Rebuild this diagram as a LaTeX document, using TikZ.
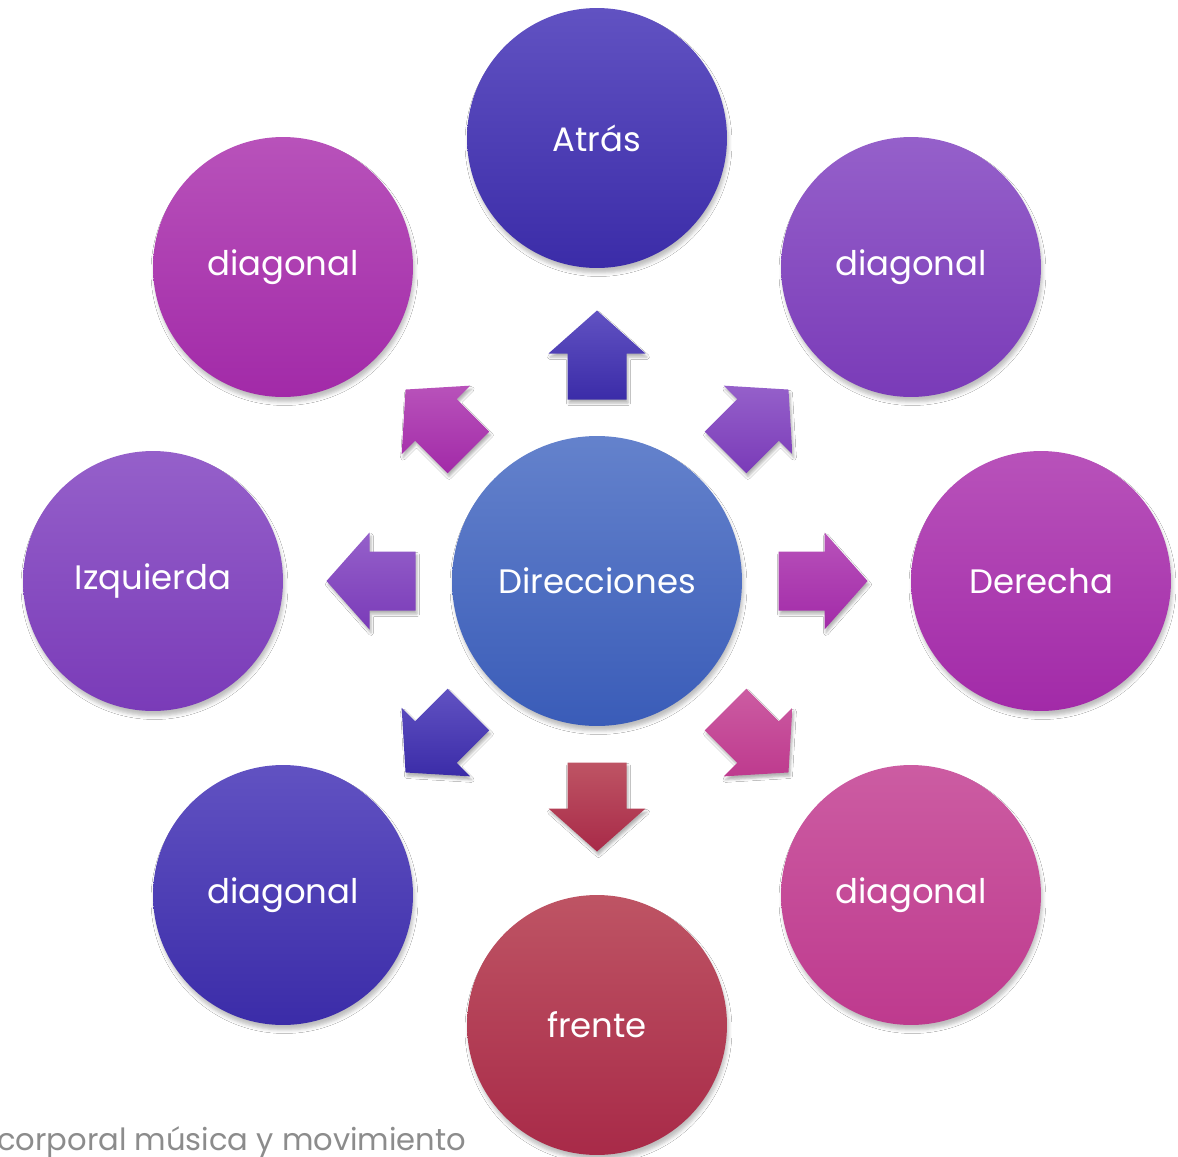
\documentclass[tikz,border=0pt]{standalone}
\usepackage{fontspec}
\setmainfont{Poppins}
\usetikzlibrary{shadows,shadows.blur}
\definecolor{indT}{HTML}{6152C2}
\definecolor{indB}{HTML}{3B2CA8}
\definecolor{purT}{HTML}{9560CA}
\definecolor{purB}{HTML}{7A3BB8}
\definecolor{magT}{HTML}{B852BA}
\definecolor{magB}{HTML}{A22AA8}
\definecolor{pinT}{HTML}{CC5CA2}
\definecolor{pinB}{HTML}{BE3A8E}
\definecolor{redT}{HTML}{BE5464}
\definecolor{redB}{HTML}{A82A48}
\definecolor{bluT}{HTML}{6482CC}
\definecolor{bluB}{HTML}{3A5CB8}
\definecolor{foot}{HTML}{8C8C8C}
\newcommand\dirarrow[5]{%
  \begin{scope}[shift={(#1,#2)},rotate=#3]
    \path[arrowshape,top color=#4,bottom color=#5]
      (0,-44.5) -- (48.5,-1.5) -- (29.5,-1.5) -- (29.5,44.5) -- (-29.5,44.5)
      -- (-29.5,-1.5) -- (-48.5,-1.5) -- cycle;
  \end{scope}}
\begin{document}
\begin{tikzpicture}[x=0.02cm,y=-0.02cm,
  circ/.style={circle, minimum size=5.2cm, inner sep=0pt, text=white,
    font=\fontsize{19.3}{23}\selectfont,
    blur shadow={shadow xshift=0.03cm, shadow yshift=-0.1cm, shadow blur radius=0.07cm, shadow opacity=25}},
  arrowshape/.style={blur shadow={shadow xshift=0.03cm, shadow yshift=-0.07cm, shadow blur radius=0.05cm, shadow opacity=30}}]
\useasboundingbox (0,0) rectangle (1178,1157);
\clip (0,0) rectangle (1178,1157);
\fill[white] (0,0) rectangle (1178,1157);

\node[circ, minimum size=5.8cm, top color=bluT, bottom color=bluB] (c) at (597,581) {Direcciones};
\node[circ, top color=indT, bottom color=indB] (n) at (597,138) {Atrás};
\node[circ, top color=purT, bottom color=purB] (ne) at (911,267) {diagonal};
\node[circ, top color=magT, bottom color=magB] (e) at (1041,581) {Derecha};
\node[circ, top color=pinT, bottom color=pinB] (se) at (911,895) {diagonal};
\node[circ, top color=redT, bottom color=redB] (s) at (597,1025) {frente};
\node[circ, top color=indT, bottom color=indB] (sw) at (283,895) {diagonal};
\node[circ, top color=purT, bottom color=purB] (w) at (153,581) {Izquierda};
\node[circ, top color=magT, bottom color=magB] (nw) at (283,267) {diagonal};

\dirarrow{597}{355}{0}{indT}{indB}
\dirarrow{757}{421}{-45}{purT}{purB}
\dirarrow{823}{581}{-90}{magT}{magB}
\dirarrow{757}{741}{-135}{pinT}{pinB}
\dirarrow{597}{807}{180}{redT}{redB}
\dirarrow{437}{741}{135}{indT}{indB}
\dirarrow{371}{581}{90}{purT}{purB}
\dirarrow{437}{421}{45}{magT}{magB}

\node[anchor=base west, inner sep=0pt, text=foot, font=\fontsize{17.4}{20}\selectfont] (cap) at (-3,1150) {corporal música y movimiento};
\end{tikzpicture}
\end{document}
